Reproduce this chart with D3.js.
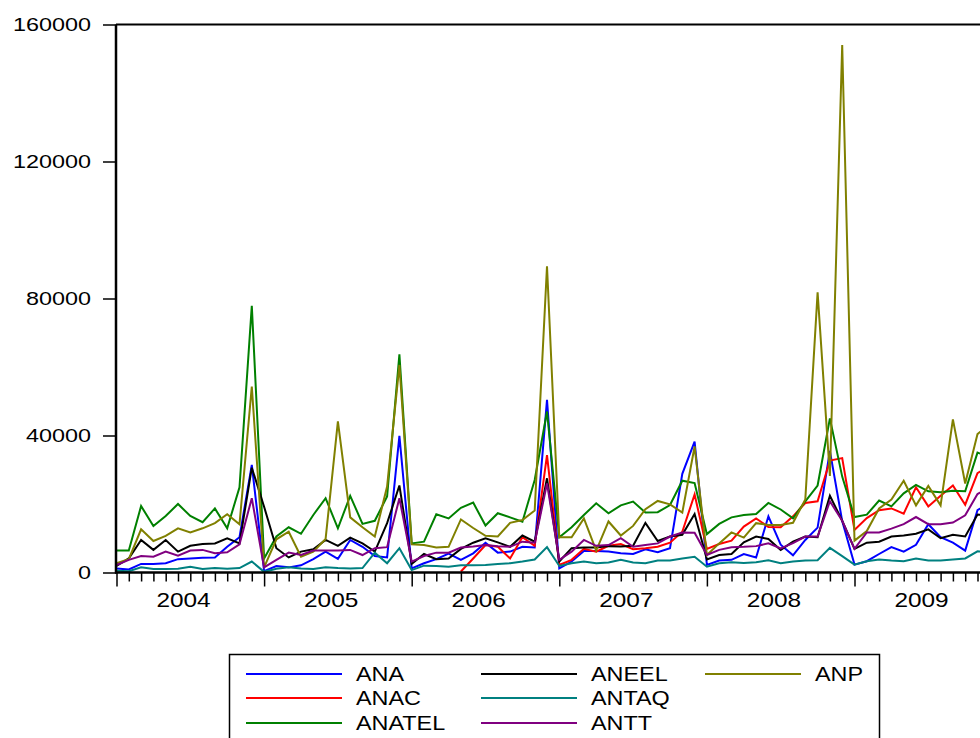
<!DOCTYPE html>
<html>
<head>
<meta charset="utf-8">
<script src="https://cdn.jsdelivr.net/npm/d3@7"></script>
<style>
  html, body { margin: 0; padding: 0; background: #fff; overflow: hidden; }
  svg { display: block; font-family: "Liberation Sans", Arial, sans-serif; }
</style>
</head>
<body>
<svg id="chart" width="980" height="738"></svg>
<script>
// monthly values, Jan 2004 onward (index 0 = 2004M01)
const years = [2004, 2005, 2006, 2007, 2008, 2009];
const yTicks = [0, 40000, 80000, 120000, 160000];

const ANA = [1200, 900, 2500, 2500, 2700, 3900, 4100, 4300, 4400, 7500, 10300, 31400,
  400, 1900, 1500, 2100, 3900, 6100, 4000, 9500, 7500, 4800, 4400, 39900,
  1200, 2700, 3900, 5500, 3700, 5600, 8700, 5800, 6100, 7500, 7300, 50400,
  1200, 3200, 6300, 6300, 6100, 5600, 5400, 6800, 5900, 7100, 28800, 38200,
  2200, 3500, 3700, 5400, 4400, 16400, 8100, 5000, 9500, 13100, 35500, 15000,
  2300, 3300, 5400, 7400, 6100, 8100, 14100, 10300, 8700, 6400, 18200, 20300];

const ANAC = [null, null, null, null, null, null, null, null, null, null, null, null,
  null, null, null, null, null, null, null, null, null, null, null, null,
  null, null, null, null, 300, 4100, 8000, 7500, 4100, 10300, 7800, 34300,
  2200, 3700, 6900, 6100, 7800, 8300, 6800, 7100, 7500, 8700, 11900, 22800,
  6900, 8300, 9300, 13400, 15800, 13300, 13200, 16400, 20300, 20800, 32700, 33400,
  12400, 15900, 18200, 18700, 17200, 24900, 19300, 22400, 25400, 19800, 29000, 31100];

const ANATEL = [6400, 6400, 19400, 13600, 16500, 20000, 16500, 14700, 18700, 12900, 24900, 77900,
  4100, 10500, 13200, 11300, 16800, 21700, 12900, 22400, 14200, 15100, 22200, 63700,
  8500, 9000, 17000, 15800, 18900, 20400, 13700, 17300, 16100, 14800, 27000, 47000,
  10300, 13200, 16800, 20200, 17300, 19600, 20700, 17500, 17600, 19700, 26800, 26100,
  11200, 14200, 16100, 16800, 17100, 20300, 18400, 15800, 20800, 25400, 45000, 28000,
  16200, 16900, 21000, 19300, 23100, 25600, 23700, 23400, 23900, 23700, 35000, 33700];

const ANEEL = [1900, 4100, 9500, 6600, 9500, 6100, 7800, 8300, 8500, 10000, 8500, 30600,
  19200, 7100, 4400, 6100, 6800, 9500, 7800, 10200, 8500, 6100, 14400, 25400,
  2500, 5400, 3900, 4100, 6900, 8700, 10000, 8800, 7500, 10800, 9000, 27500,
  3200, 7100, 7300, 7300, 7700, 7600, 7800, 14500, 9200, 10500, 11000, 17100,
  3800, 5100, 5400, 8800, 10500, 9800, 6600, 9000, 10500, 10300, 22400, 15100,
  6900, 8700, 9000, 10500, 10800, 11300, 12600, 10000, 11000, 10500, 16900, 16700];

const ANP = [2700, 3900, 12600, 9200, 10700, 12900, 11700, 12900, 14400, 17000, 14100, 54300,
  1500, 9700, 11900, 4600, 6100, 9800, 44100, 16100, 13200, 10500, 25100, 60600,
  8200, 8000, 7300, 7500, 15500, 13000, 10700, 10500, 14500, 15300, 18100, 89400,
  10300, 10300, 15800, 6400, 14900, 10800, 13600, 18500, 20900, 19900, 17500, 36800,
  5100, 8500, 11700, 10200, 14400, 13900, 13900, 14500, 21300, 81800, 28200, 154000,
  9300, 12100, 18700, 21300, 26800, 19600, 25300, 19600, 44700, 26000, 40400, 43500];

const ANTAQ = [500, 400, 1500, 1000, 1000, 1100, 1700, 1000, 1300, 1100, 1300, 3200,
  200, 1100, 1500, 1200, 1000, 1500, 1300, 1200, 1300, 5800, 2700, 7100,
  700, 2000, 1900, 1700, 2100, 2100, 2200, 2500, 2700, 3200, 3800, 7400,
  1900, 2700, 3200, 2700, 2900, 3700, 2900, 2700, 3500, 3500, 4100, 4600,
  1700, 2700, 3000, 2800, 3000, 3600, 2700, 3200, 3500, 3600, 7200, 4800,
  2300, 3300, 3800, 3500, 3300, 4100, 3500, 3500, 3800, 4100, 6200, 5900];

const ANTT = [2200, 3700, 4800, 4600, 6100, 4900, 6400, 6600, 5600, 5900, 8200, 21700,
  1500, 3700, 5800, 5100, 6400, 6400, 6400, 6600, 5100, 7100, 7400, 21700,
  3200, 4800, 5800, 5800, 7300, 7600, 8000, 7700, 7500, 9000, 8700, 26000,
  3700, 6100, 9500, 7800, 8000, 10000, 7500, 8000, 8500, 10500, 11700, 11600,
  5100, 6600, 7400, 7500, 7700, 8500, 7000, 8600, 10500, 10500, 20800, 15100,
  6900, 11700, 11700, 12800, 14100, 16200, 14100, 14100, 14600, 16700, 22900, 24900];

const seriesNames = ["ANA", "ANAC", "ANATEL", "ANEEL", "ANP", "ANTAQ", "ANTT"];
const seriesValues = [ANA, ANAC, ANATEL, ANEEL, ANP, ANTAQ, ANTT];
const seriesColors = ["#0000ff", "#ff0000", "#008000", "#000000", "#808000", "#008080", "#800080"];

// legend slots: [column, row] for each series
const legendSlots = [[0, 0], [0, 1], [0, 2], [1, 0], [2, 0], [1, 1], [1, 2]];

const svg = d3.select("#chart");
const W = 980;
const plotLeft = 116, plotTop = 24.5, plotBottom = 572.5;
const monthW = 12.3;
const nMonths = 73;

const x = d3.scaleLinear().domain([0, nMonths - 1]).range([116.5, 116.5 + (nMonths - 1) * monthW]);
const y = d3.scaleLinear().domain([0, 160000]).range([plotBottom, plotTop]);

// ── lines ──
const line = d3.line()
  .defined((d) => d != null)
  .x((d, i) => x(i))
  .y((d) => y(d));

const plot = svg.append("g");
seriesValues.forEach((vals, k) => {
  plot.append("path")
    .datum(vals)
    .attr("fill", "none")
    .attr("stroke", seriesColors[k])
    .attr("stroke-width", 2)
    .attr("stroke-linejoin", "miter")
    .attr("d", line);
});

// ── frame ──
svg.append("line")
  .attr("x1", plotLeft).attr("x2", W + 5).attr("y1", plotTop).attr("y2", plotTop)
  .attr("stroke", "#000").attr("stroke-width", 2);

// ── y axis ──
const yAxis = svg.append("g")
  .attr("transform", `translate(${plotLeft},0)`)
  .call(d3.axisLeft(y).tickValues(yTicks).tickSize(13).tickFormat(""));
yAxis.select(".domain").attr("stroke-width", 2.5).attr("d", `M0,${plotTop}V${plotBottom + 1}`);
yAxis.selectAll(".tick line").attr("stroke-width", 1.5);

svg.append("g").selectAll("text")
  .data(yTicks)
  .join("text")
  .attr("transform", (d) => `translate(91,${y(d) + 6.4}) scale(1.3,1)`)
  .attr("text-anchor", "end")
  .attr("font-size", 18)
  .attr("fill", "#000")
  .text((d) => d);

// ── x axis ──
const months = d3.range(0, nMonths);
const xAxisMinor = svg.append("g")
  .attr("transform", `translate(0,${plotBottom})`)
  .call(d3.axisBottom(x).tickValues(months.filter((m) => m % 12 !== 0)).tickSize(9).tickFormat(""));
xAxisMinor.select(".domain").attr("stroke-width", 2.5).attr("d", `M${plotLeft - 1},0H${W + 5}`);
xAxisMinor.selectAll(".tick line").attr("stroke-width", 1.5);

const xAxisMajor = svg.append("g")
  .attr("transform", `translate(0,${plotBottom})`)
  .call(d3.axisBottom(x).tickValues(months.filter((m) => m % 12 === 0)).tickSize(14).tickFormat(""));
xAxisMajor.select(".domain").remove();
xAxisMajor.selectAll(".tick line").attr("stroke-width", 1.5);

svg.append("g").selectAll("text")
  .data(years)
  .join("text")
  .attr("transform", (d, i) => `translate(${x(i * 12 + 5.45)},607) scale(1.22,1)`)
  .attr("text-anchor", "middle")
  .attr("font-size", 20)
  .attr("fill", "#000")
  .text((d) => d);

// ── legend ──
const legend = svg.append("g");
legend.append("rect")
  .attr("x", 229.5).attr("y", 654.5)
  .attr("width", 650).attr("height", 120)
  .attr("fill", "#fff")
  .attr("stroke", "#000")
  .attr("stroke-width", 1.5);

const colLineX = [246, 481, 705];
const colTextX = [356, 591, 815];
const rowY = [674, 698, 723];

seriesNames.forEach((name, k) => {
  const [c, r] = legendSlots[k];
  legend.append("line")
    .attr("x1", colLineX[c]).attr("x2", colLineX[c] + 96)
    .attr("y1", rowY[r]).attr("y2", rowY[r])
    .attr("stroke", seriesColors[k])
    .attr("stroke-width", 2);
  legend.append("text")
    .attr("transform", `translate(${colTextX[c]},${rowY[r] + 7}) scale(1.17,1)`)
    .attr("font-size", 20)
    .attr("fill", "#000")
    .text(name);
});
</script>
</body>
</html>
